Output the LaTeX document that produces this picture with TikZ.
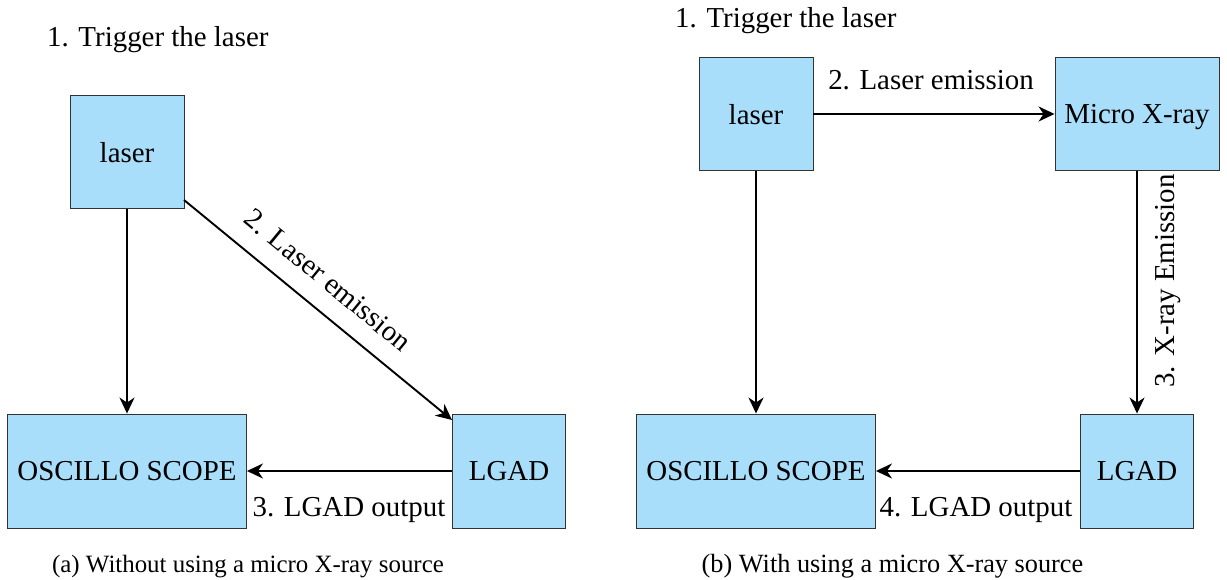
\documentclass[tikz,border=0pt]{standalone}
\usepackage{fontspec}
\setmainfont{Liberation Serif}
\usetikzlibrary{arrows.meta}
\definecolor{boxblue}{HTML}{A9DEFB}
\tikzset{
 box/.style={draw=black!80,fill=boxblue,line width=0.9pt,minimum width=#1,inner sep=0pt,text depth=0pt,font=\fontsize{28.9}{32}\selectfont},
 conn/.style={draw=black,line width=1.9pt,-{Stealth[length=16pt,width=15pt,inset=5pt]}},
 lab/.style={font=\fontsize{28.9}{32}\selectfont,inner sep=0pt},
 captiontext/.style={font=\fontsize{24.9}{28}\selectfont,inner sep=0pt},
 captionwide/.style={font=\fontsize{26.3}{30}\selectfont,inner sep=0pt}
}
\begin{document}
\begin{tikzpicture}[x=1pt,y=-1pt]
\useasboundingbox (0,0) rectangle (1227,580);
% left
\node[box=114pt,minimum height=113pt] (laserA) at (127,152) {laser};
\node[box=239pt,minimum height=114pt] (scopeA) at (127,471) {OSCILLO SCOPE};
\node[box=113pt,minimum height=114pt] (lgadA) at (509,471) {LGAD};
\coordinate (diagStart) at (184,200);
\coordinate (diagEnd) at (452,420);
\draw[conn] (laserA.south) -- (scopeA.north);
\draw[conn] (diagStart) -- (diagEnd);
\draw[conn] (lgadA.west) -- (scopeA.east);
\node[lab,anchor=west] (t1A) at (47,40) {1. Trigger the laser};
\node[lab,rotate=-39.5] (t2A) at (328,280) {2. Laser emission};
\node[lab] (t3A) at (349,510) {3. LGAD output};
\node[captiontext] (capA) at (248,567) {(a) Without using a micro X-ray source};
% right
\node[box=114pt,minimum height=113pt] (laserB) at (756,114) {laser};
\node[box=164pt,minimum height=113pt] (xray) at (1137,114) {Micro X-ray};
\node[box=239pt,minimum height=114pt] (scopeB) at (756,471) {OSCILLO SCOPE};
\node[box=113pt,minimum height=114pt] (lgadB) at (1137,471) {LGAD};
\draw[conn] (laserB.east) -- (xray.west);
\draw[conn] (laserB.south) -- (scopeB.north);
\draw[conn] (xray.south) -- (lgadB.north);
\draw[conn] (lgadB.west) -- (scopeB.east);
\node[lab,anchor=west] (t1B) at (675,21) {1. Trigger the laser};
\node[lab] (t2B) at (931,80) {2. Laser emission};
\node[lab,rotate=90] (t3B) at (1168,281) {3. X-ray Emission};
\node[lab] (t4B) at (976,510) {4. LGAD output};
\node[captionwide] (capB) at (892.5,566) {(b) With using a micro X-ray source};
\end{tikzpicture}
\end{document}
